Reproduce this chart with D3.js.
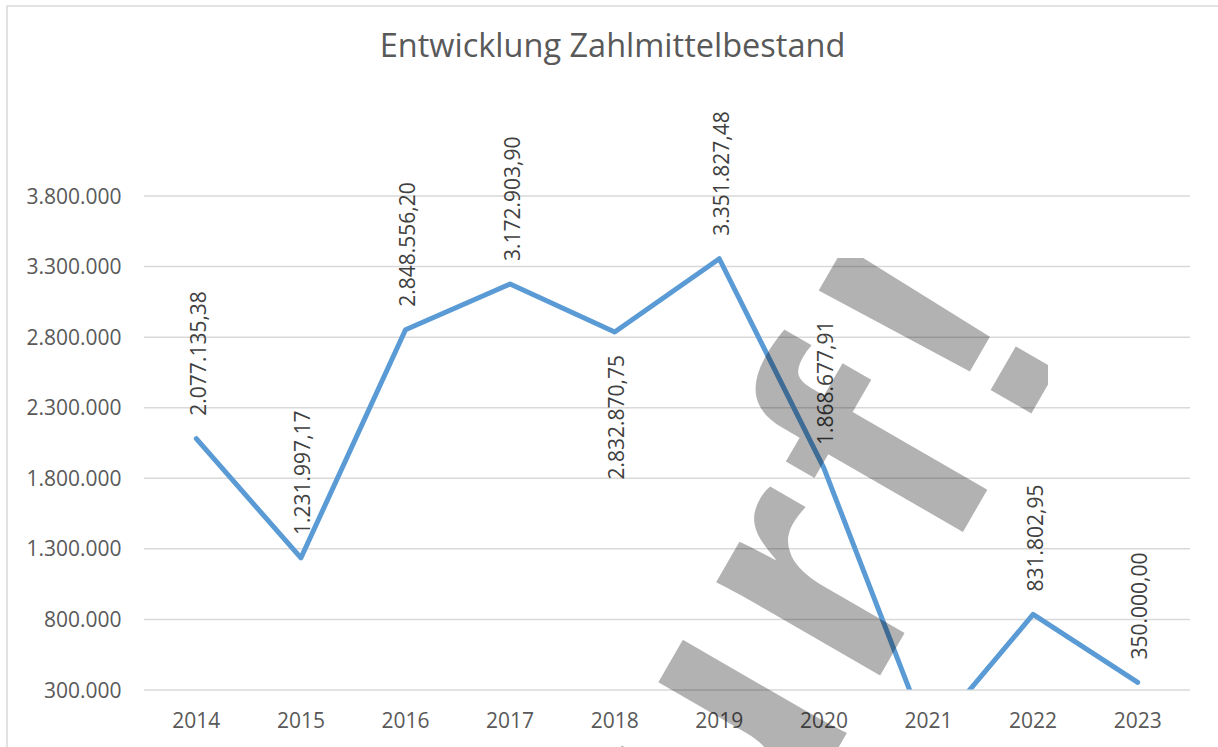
<!DOCTYPE html>
<html>
<head>
<meta charset="utf-8">
<script src="https://cdn.jsdelivr.net/npm/d3@7"></script>
<style>
	html, body { margin: 0; padding: 0; background: #fff; overflow: hidden; }
	text { font-family: "Open Sans", sans-serif; }
</style>
</head>
<body>
<svg id="chart"></svg>
<script>
// Data
const years = ["2014", "2015", "2016", "2017", "2018", "2019", "2020", "2021", "2022", "2023"];
const balances = [2077135.38, 1231997.17, 2848556.20, 3172903.90, 2832870.75, 3351827.48, 1868677.91, -50000, 831802.95, 350000.00];
const labelBelow = ["2018"];
const yTicks = [300000, 800000, 1300000, 1800000, 2300000, 2800000, 3300000, 3800000];
const title = "Entwicklung Zahlmittelbestand";
const watermark = "Entwurf!";

const width = 1218;
const height = 747;
const margin = { top: 195.5, right: 28, bottom: 57.5, left: 144 };

const de = d3.formatLocale({ decimal: ",", thousands: ".", grouping: [3], currency: ["", " €"] });
const fmtTick = de.format(",.0f");
const fmtLabel = de.format(",.2f");

const data = years.map((y, i) => ({ year: y, value: balances[i] }));

const svg = d3.select("#chart")
	.attr("width", width)
	.attr("height", height);

// Chart area border
svg.append("rect")
	.attr("x", 7)
	.attr("y", 6)
	.attr("width", width + 20)
	.attr("height", height + 20)
	.attr("fill", "#fff")
	.attr("stroke", "#d9d9d9")
	.attr("stroke-width", 1.5);

const x = d3.scaleBand()
	.domain(years)
	.range([margin.left, width - margin.right]);

const y = d3.scaleLinear()
	.domain([d3.min(yTicks), d3.max(yTicks)])
	.range([height - margin.bottom, margin.top]);

// Title
svg.append("text")
	.attr("x", 612.5)
	.attr("y", 57)
	.attr("text-anchor", "middle")
	.style("font-size", "32.5px")
	.style("fill", "#595959")
	.text(title);

// Gridlines + y labels
const yAxis = svg.append("g")
	.attr("transform", `translate(${margin.left},0)`)
	.call(d3.axisLeft(y)
		.tickValues(yTicks)
		.tickSize(-(width - margin.left - margin.right))
		.tickPadding(22.5)
		.tickFormat(fmtTick));
yAxis.select(".domain").remove();
yAxis.selectAll(".tick line")
	.attr("stroke", "#d9d9d9")
	.attr("stroke-width", 1.5);
yAxis.selectAll(".tick text")
	.attr("dy", "0.36em")
	.style("font-family", "'Open Sans', sans-serif")
	.style("font-size", "21px")
	.style("fill", "#595959");

// x labels
const xAxis = svg.append("g")
	.attr("transform", `translate(0,${height - margin.bottom})`)
	.call(d3.axisBottom(x).tickSize(0).tickPadding(24));
xAxis.select(".domain").remove();
xAxis.selectAll(".tick text")
	.attr("dy", "0.71em")
	.attr("y", 23.5)
	.style("font-family", "'Open Sans', sans-serif")
	.style("font-size", "21px")
	.style("fill", "#595959");

// Plot clip
svg.append("clipPath")
	.attr("id", "plotClip")
	.append("rect")
	.attr("x", margin.left)
	.attr("y", 0)
	.attr("width", width - margin.left - margin.right)
	.attr("height", y(d3.min(yTicks)));

const line = d3.line()
	.x((d) => x(d.year) + x.bandwidth() / 2)
	.y((d) => y(d.value));

svg.append("path")
	.datum(data)
	.attr("clip-path", "url(#plotClip)")
	.attr("fill", "none")
	.attr("stroke", "#5B9BD5")
	.attr("stroke-width", 5)
	.attr("stroke-linejoin", "round")
	.attr("stroke-linecap", "round")
	.attr("d", line);

// Data labels (points outside the axis range get none)
svg.append("g")
	.selectAll("text")
	.data(data.filter((d) => d.value >= y.domain()[0]))
	.join("text")
	.attr("transform", (d) => {
		const below = labelBelow.includes(d.year);
		const px = x(d.year) + x.bandwidth() / 2 + 9.5;
		const py = y(d.value) + (below ? 23 : -23);
		return `translate(${px},${py}) rotate(-90)`;
	})
	.attr("text-anchor", (d) => labelBelow.includes(d.year) ? "end" : "start")
	.style("font-size", "21px")
	.style("fill", "#404040")
	.text((d) => fmtLabel(d.value));

// Watermark, cut off like in the original
svg.append("clipPath")
	.attr("id", "wmClip")
	.append("rect")
	.attr("x", 0)
	.attr("y", 258)
	.attr("width", 1048)
	.attr("height", height - 258);

svg.append("g")
	.attr("clip-path", "url(#wmClip)")
	.append("text")
	.attr("transform", "translate(1083,324) rotate(-60)")
	.attr("text-anchor", "end")
	.style("font-family", "'Liberation Sans', sans-serif")
	.style("font-weight", "bold")
	.style("font-size", "357px")
	.style("letter-spacing", "18px")
	.style("fill", "#000")
	.style("fill-opacity", 0.3)
	.text(watermark);
</script>
</body>
</html>
